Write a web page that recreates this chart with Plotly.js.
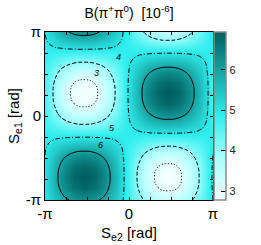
<!DOCTYPE html>
<html><head><meta charset="utf-8">
<script src="https://cdn.plot.ly/plotly-3.0.1.min.js"></script>
<style>html,body{margin:0;padding:0;background:#fff}#c{width:261px;height:245px}</style>
</head><body><div id="c"></div>
<script>
const P = Math.PI;
const Se2 = [-3.1416, -2.859, -2.466, -2.073, -1.681, -1.288, -0.895, -0.503, -0.110, 0.283, 0.675, 1.068, 1.461, 1.853, 2.246, 2.639, 3.032, 3.1416];
const Se1 = [-3.1416, -3.076, -2.683, -2.291, -1.898, -1.505, -1.113, -0.720, -0.327, 0.065, 0.458, 0.851, 1.243, 1.636, 2.029, 2.422, 2.814, 3.1416];
// B(pi+ pi0) in units of 1e-6; rows follow Se1, columns follow Se2
const B = [
 [5.00,5.38,5.83,6.13,6.23,6.13,5.83,5.38,4.85,4.31,3.85,3.54,3.43,3.54,3.85,4.31,4.85,5.00],
 [5.01,5.42,5.90,6.22,6.33,6.22,5.90,5.42,4.85,4.27,3.78,3.45,3.33,3.45,3.78,4.27,4.85,5.01],
 [5.06,5.59,6.22,6.64,6.79,6.64,6.22,5.59,4.85,4.09,3.45,3.01,2.86,3.01,3.45,4.09,4.85,5.06],
 [5.08,5.65,6.33,6.79,6.95,6.79,6.33,5.65,4.85,4.03,3.33,2.86,2.70,2.86,3.33,4.03,4.85,5.08],
 [5.06,5.59,6.22,6.64,6.79,6.64,6.22,5.59,4.85,4.09,3.45,3.01,2.86,3.01,3.45,4.09,4.85,5.06],
 [5.01,5.42,5.90,6.22,6.33,6.22,5.90,5.42,4.85,4.27,3.78,3.45,3.33,3.45,3.78,4.27,4.85,5.01],
 [4.94,5.16,5.42,5.59,5.65,5.59,5.42,5.16,4.85,4.53,4.27,4.09,4.03,4.09,4.27,4.53,4.85,4.94],
 [4.85,4.85,4.85,4.85,4.85,4.85,4.85,4.85,4.85,4.85,4.85,4.85,4.85,4.85,4.85,4.85,4.85,4.85],
 [4.76,4.53,4.27,4.09,4.03,4.09,4.27,4.53,4.85,5.16,5.42,5.59,5.65,5.59,5.42,5.16,4.85,4.76],
 [4.68,4.27,3.78,3.45,3.33,3.45,3.78,4.27,4.85,5.42,5.90,6.22,6.33,6.22,5.90,5.42,4.85,4.68],
 [4.63,4.09,3.45,3.01,2.86,3.01,3.45,4.09,4.85,5.59,6.22,6.64,6.79,6.64,6.22,5.59,4.85,4.63],
 [4.61,4.03,3.33,2.86,2.70,2.86,3.33,4.03,4.85,5.65,6.33,6.79,6.95,6.79,6.33,5.65,4.85,4.61],
 [4.63,4.09,3.45,3.01,2.86,3.01,3.45,4.09,4.85,5.59,6.22,6.64,6.79,6.64,6.22,5.59,4.85,4.63],
 [4.68,4.27,3.78,3.45,3.33,3.45,3.78,4.27,4.85,5.42,5.90,6.22,6.33,6.22,5.90,5.42,4.85,4.68],
 [4.76,4.53,4.27,4.09,4.03,4.09,4.27,4.53,4.85,5.16,5.42,5.59,5.65,5.59,5.42,5.16,4.85,4.76],
 [4.85,4.85,4.85,4.85,4.85,4.85,4.85,4.85,4.85,4.85,4.85,4.85,4.85,4.85,4.85,4.85,4.85,4.85],
 [4.94,5.16,5.42,5.59,5.65,5.59,5.42,5.16,4.85,4.53,4.27,4.09,4.03,4.09,4.27,4.53,4.85,4.94],
 [5.00,5.38,5.83,6.13,6.23,6.13,5.83,5.38,4.85,4.31,3.85,3.54,3.43,3.54,3.85,4.31,4.85,5.00]
];
const levels = [3, 4, 5, 6];
const levelDash = ['1px,2px', '4px,2px', '5px,2px,1px,2px', 'solid'];
const levelLabels = ['3', '4', '5', '6'];
const labelPos = [[-1.20, 1.61], [-0.41, 2.21], [-0.64, -0.45], [-1.08, -1.08]];
const cbTicks = [3, 4, 5, 6];
const axTickVals = [-P, 0, P];
const axTickText = ['-π', '0', 'π'];
const axMinorVals = [-3*P/4, -P/2, -P/4, P/4, P/2, 3*P/4];

const traces = [{
  type: 'heatmap', x: Se2, y: Se1, z: B, zsmooth: 'best',
  zmin: 2.78, zmax: 6.93,
  colorscale: [[0, '#f2ffff'], [0.25, '#a8ffff'], [0.5, '#30eeee'], [0.75, '#18a8a8'], [1, '#005e5e']],
  colorbar: {
    x: 1.0, xanchor: 'left', xpad: 1, ypad: 0, len: 1, lenmode: 'fraction', y: 0.5, yanchor: 'middle',
    thickness: 12, outlinecolor: '#888', outlinewidth: 1.5,
    tickvals: cbTicks, ticks: 'inside', ticklen: 5, tickcolor: '#000',
    tickfont: {family: 'Liberation Sans, Arial', size: 11, color: '#222'}
  }
}];
levels.forEach((lv, k) => {
  traces.push({
    type: 'contour', x: Se2, y: Se1, z: B, autocontour: false,
    contours: {start: lv, end: lv, size: 1, coloring: 'none'},
    line: {color: '#000', width: 1, dash: levelDash[k], smoothing: 1.3},
    showscale: false, hoverinfo: 'skip'
  });
});
const ann = levels.map((lv, k) => ({
  x: labelPos[k][0], y: labelPos[k][1], xref: 'x', yref: 'y', text: levelLabels[k],
  showarrow: false, font: {family: 'Liberation Sans, Arial', size: 9, color: '#000', style: 'italic'}
}));
const axBase = {
  range: [-P, P], tickmode: 'array', tickvals: axTickVals, ticktext: axTickText,
  ticks: 'inside', ticklen: 3, tickcolor: '#000', showline: true, linecolor: '#000', linewidth: 1,
  mirror: 'ticks', showgrid: false, zeroline: false,
  minor: {tickmode: 'array', tickvals: axMinorVals, ticks: 'inside', ticklen: 3, tickcolor: '#000', showgrid: false},
  tickfont: {family: 'Liberation Sans, Arial', size: 15, color: '#000'}
};
const layout = {
  width: 261, height: 245, margin: {l: 45, r: 48, t: 32, b: 45},
  paper_bgcolor: '#fff', plot_bgcolor: '#fff', showlegend: false,
  title: {text: 'B(π<sup>+</sup>π<sup>0</sup>)  [10<sup>-6</sup>]', x: 0.5, xref: 'paper', y: 0.945, yref: 'container', yanchor: 'middle',
    font: {family: 'Liberation Sans, Arial', size: 14, color: '#000'}},
  xaxis: Object.assign({}, axBase, {title: {text: 'S<sub>e2</sub> [rad]', standoff: 6, font: {family: 'Liberation Sans, Arial', size: 15, color: '#000'}}}),
  yaxis: Object.assign({}, axBase, {title: {text: 'S<sub>e1</sub> [rad]', standoff: 2, font: {family: 'Liberation Sans, Arial', size: 15, color: '#000'}}}),
  annotations: ann
};
Plotly.newPlot('c', traces, layout, {displayModeBar: false, staticPlot: true});
</script></body></html>
